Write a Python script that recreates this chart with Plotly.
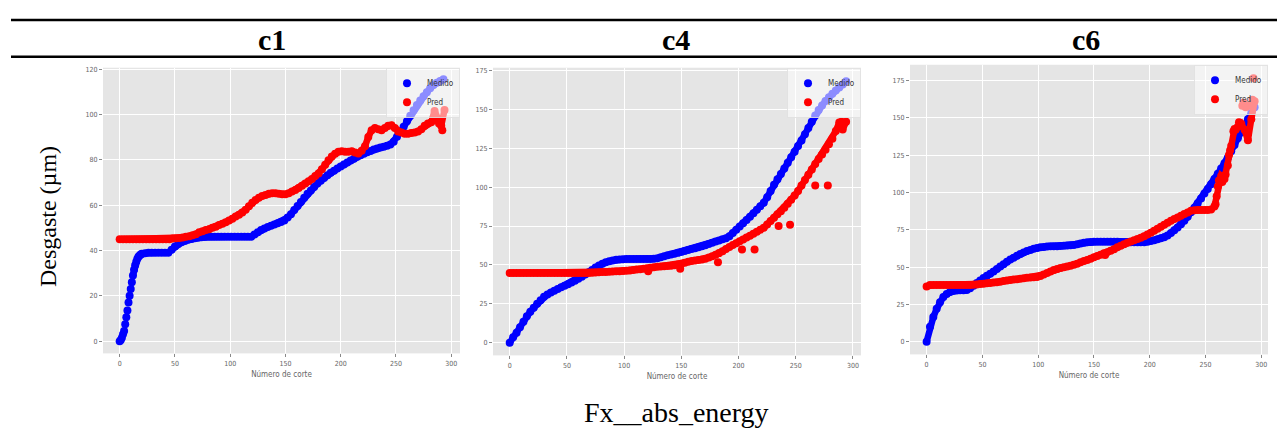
import plotly.graph_objects as go

# ---------------- data ----------------
grid_x = list(range(0, 295, 3))  # cut numbers 0..294 step 3

# c1
c1_medido_x = list(range(0, 21)) + list(range(23, 294, 3))
c1_medido = [0, 0.5, 1.5, 3, 4.5, 7.5, 10.5, 13.5, 17, 20, 23, 26, 29, 31.5, 33.5, 35, 36.3, 37.2, 37.8, 38.2, 38.5,
             38.8, 39, 39, 39, 39, 39, 39, 39, 40.3, 41.7, 42.8, 43.6, 44.2, 44.7, 45.1, 45.4, 45.6, 45.8, 45.9,
             46, 46, 46, 46, 46, 46, 46, 46, 46, 46, 46, 46, 46, 46,
             47, 48, 49, 49.7, 50.3, 50.9, 51.5, 52, 52.6, 53.2, 54.5, 56, 57.8, 59.6, 61.4, 63.2, 65, 66.5, 68,
             69.5, 70.8, 72, 73.2, 74.3, 75.2, 76.1, 77, 77.9, 78.8, 79.7, 80.5, 81.3, 82, 82.7, 83.3, 83.9, 84.5,
             85, 85.4, 85.8, 86.2, 86.7, 88, 90.2, 92.3, 94.6, 97, 99.4, 101.8, 104.2, 106.2, 108, 109.8, 111.5,
             113, 114, 114.8, 115.5]
c1_pred = [45, 45, 45, 45, 45, 45, 45, 45, 45, 45, 45, 45, 45, 45, 45, 45,
           45.3, 45.4, 45.5, 45.7, 46, 46.3, 46.7, 47.2, 48, 48.5, 49, 49.4, 50, 50.5, 51.2, 51.8, 52.5, 53.2,
           54, 55, 55.8, 56.8, 58, 59.5, 61, 62.3, 63.3, 64, 64.5, 65, 65.2, 65.2, 65, 64.8, 64.8, 65.2, 66,
           66.7, 67.5, 68.5, 69.5, 70.5, 71.5, 72.8, 74, 75.8, 77.8, 79.8, 81.5, 82.7, 83.5, 83.8, 83.5, 83.5,
           83.8, 83.2, 82.8, 84, 86, 90, 93, 94, 93.5, 93, 94, 95, 95.2, 94, 92.5, 92, 91.5, 91.5, 91.8, 92,
           92.5, 93.5, 95, 96, 96.5, 101.5, 97.5, 95, 102]
c1_pred_extra_x = [284, 289, 292]
c1_pred_extra = [98.5, 96, 93]

# c4
c4_medido = [0, 3.5, 6.5, 10, 13.5, 17, 20, 22.5, 25, 27.3, 29.5, 31, 32.3, 33.5, 34.6, 35.6, 36.6, 37.6,
             38.7, 39.9, 41.1, 42.4, 43.8, 45.3, 46.8, 48.3, 49.7, 50.8, 51.7, 52.4, 52.9, 53.3, 53.5, 53.7,
             53.8, 53.8, 53.8, 53.8, 53.8, 53.8, 53.8, 53.9, 54, 54.3, 55, 55.6, 56.2, 56.7, 57.2, 57.8, 58.4,
             59, 59.6, 60.2, 60.8, 61.4, 62, 62.7, 63.4, 64.2, 65, 65.7, 66.5, 67.2, 68.5, 70.5, 72.6, 74.7,
             76.8, 78.9, 81, 83.2, 85.4, 87.7, 90, 93.5, 97.5, 101.5, 105, 108.5, 112, 115.6, 119.2, 122.8,
             126.4, 130, 134, 138, 142, 146, 149.5, 152.5, 155.3, 157.8, 160, 162, 164, 166, 168]
c4_pred = [44.8, 44.8, 44.8, 44.8, 44.8, 44.8, 44.8, 44.8, 44.8, 44.8, 44.8, 44.8, 44.8, 44.8,
           44.8, 44.8, 44.8, 44.8, 44.8, 44.8, 44.8, 44.8, 44.8,
           44.9, 45, 45.1, 45.3, 45.4, 45.5, 45.6, 45.8, 45.9, 46, 46.1, 46.2, 46.5, 46.8, 47, 47.3, 47.6,
           47.9, 48.2, 48.5, 48.8, 49, 49.2, 49.4, 49.5, 49.8, 50.3, 50.8, 51.4, 52, 52.5, 52.8, 53.2, 53.5,
           54, 54.8, 55.6, 56.5, 57.6, 58.8, 60.2, 61.6, 62.8, 64, 65.2, 66.4, 67.6, 68.8, 70, 71.3, 72.6,
           73.9, 76, 78.2, 80.4, 82.5, 84.5, 86.8, 89.3, 91.9, 94.6, 97.5, 101, 104.5, 108, 111.3, 114.8,
           118, 121, 124, 127.5, 131, 136, 141.5, 137, 142]
c4_pred_out_x = [121, 149, 182, 203, 214, 235, 245, 267, 278, 290]
c4_pred_out = [46, 47.5, 51.8, 60, 60, 75, 75.8, 101, 101, 142]

# c6
c6_medido = [0, 10, 16.5, 22, 26.5, 30, 32, 33.3, 34, 34.3, 34.4, 34.4, 34.6, 35.8, 37.5, 39.3, 41, 42.6,
             44.1, 45.6, 47.1, 48.7, 50.3, 51.9, 53.5, 55, 56.3, 57.5, 58.7, 59.8, 60.7, 61.5, 62.2, 62.8,
             63.2, 63.5, 63.7, 63.9, 64, 64, 64.1, 64.2, 64.4, 64.6, 64.8, 65.3, 65.8, 66.2, 66.6, 66.8, 66.9,
             67, 67, 67, 67, 67, 67, 66.9, 66.8, 66.7, 66.6, 66.6, 66.6, 66.6, 66.6, 66.7, 67, 67.5, 68, 68.6,
             69.3, 70, 71.2, 72.8, 74.6, 76.5, 78.6, 81, 83.7, 86.7, 89.7, 92.8, 96, 99.2, 102.3, 105.5, 109,
             112.5, 116, 119.6, 123.2, 127.5, 131.8, 136.3, 140.8, 145, 149, 153, 157]
c6_pred = [37, 38, 38, 38, 38, 38, 38, 38, 38, 38, 38, 38, 38, 38,
           38.2, 38.4, 38.7, 38.9, 39.1, 39.3, 39.6, 39.9, 40.2, 40.6, 41, 41.3, 41.6, 41.9, 42.2, 42.5, 42.8,
           43, 43.2, 43.4, 44, 45, 46, 47, 48, 48.7, 49.3, 49.8, 50.3, 50.8, 51.5, 52.3, 53.2, 54, 54.8, 55.6,
           56.5, 57.4, 58.3, 59.2, 60, 61, 62, 63.2, 64.3, 65.3, 66.3, 67.2, 68, 68.8, 69.7, 70.7, 71.8, 73,
           74.3, 75.6, 77, 78.3, 79.7, 81, 82.2, 83.2, 84.3, 85.5, 86.6, 87.7, 88, 88.2, 88.3, 88.3, 88.3,
           88.5, 90.5, 104, 111, 109, 118, 131, 142.5, 144, 146, 142, 135, 149, 161]
c6_pred_out_x = [160, 259, 260, 262, 265, 268, 271, 272, 275, 277, 280, 283, 284, 286, 287, 289, 292, 293]
c6_pred_out = [58, 92, 97.5, 108, 107, 112, 125, 128, 141, 142, 147, 158, 160, 157, 141, 158, 162, 176.5]

panel_titles = ["c1", "c4", "c6"]
series_names = ["Medido", "Pred"]
x_ticks = [0, 50, 100, 150, 200, 250, 300]
y_ticks_c1 = [0, 20, 40, 60, 80, 100, 120]
y_ticks_c46 = [0, 25, 50, 75, 100, 125, 150, 175]
x_title = "Número de corte"
y_label = "Desgaste (µm)"
x_label = "Fx__abs_energy"

# ---------------- figure ----------------
W, H = 1285, 432
BLUE, RED = "#0000FF", "#FF0000"
MS = 8      # marker diameter
LW = 6.5    # width of the dense band joining consecutive markers

panels = [
    dict(mx=c1_medido_x, my=c1_medido, py=c1_pred, ox=c1_pred_extra_x, oy=c1_pred_extra, band_from=12,
         xpx=(95, 452), ypx=(58, 345), xr=[-15.1, 308], yr=[-5.4, 120.6], yt=y_ticks_c1),
    dict(mx=grid_x, my=c4_medido, py=c4_pred, ox=c4_pred_out_x, oy=c4_pred_out, band_from=0,
         xpx=(485, 853), ypx=(58, 347), xr=[-14.6, 307], yr=[-8.1, 176.7], yt=y_ticks_c46),
    dict(mx=grid_x, my=c6_medido, py=c6_pred, ox=c6_pred_out_x, oy=c6_pred_out, band_from=0,
         xpx=(902, 1260), ypx=(55, 346), xr=[-14.9, 306], yr=[-8.5, 185.5], yt=y_ticks_c46),
]

fig = go.Figure()
layout = dict(width=W, height=H, margin=dict(l=0, r=0, t=0, b=0),
              paper_bgcolor="white", plot_bgcolor="#E5E5E5", showlegend=True)

small_font = "DejaVu Sans Condensed, DejaVu Sans"
tick_font = dict(family=small_font, size=7, color="#666666")

for i, p in enumerate(panels):
    k = "" if i == 0 else str(i + 1)
    lg = "legend" if i == 0 else f"legend{i + 1}"
    ax = dict(xaxis="x" + k, yaxis="y" + k, legend=lg)
    b = p["band_from"]
    # dense bands (the original has one marker per cut, which merges into a band)
    fig.add_trace(go.Scatter(x=p["mx"][b:], y=p["my"][b:], mode="lines", showlegend=False,
                             line=dict(color=BLUE, width=LW), hoverinfo="skip", **ax))
    fig.add_trace(go.Scatter(x=p["mx"], y=p["my"], mode="markers", name=series_names[0],
                             marker=dict(color=BLUE, size=MS, line=dict(width=0)), **ax))
    fig.add_trace(go.Scatter(x=grid_x, y=p["py"], mode="lines", showlegend=False,
                             line=dict(color=RED, width=LW), hoverinfo="skip", **ax))
    fig.add_trace(go.Scatter(x=grid_x, y=p["py"], mode="markers", name=series_names[1],
                             marker=dict(color=RED, size=MS, line=dict(width=0)), **ax))
    fig.add_trace(go.Scatter(x=p["ox"], y=p["oy"], mode="markers", name=series_names[1],
                             marker=dict(color=RED, size=MS, line=dict(width=0)), showlegend=False, **ax))
    x0, x1 = p["xpx"]
    yt, yb = p["ypx"]
    layout["xaxis" + k] = dict(domain=[x0 / W, x1 / W], range=p["xr"], anchor="y" + k,
                               tickvals=x_ticks, showgrid=True, gridcolor="white", gridwidth=1,
                               zeroline=False, showline=False, ticks="outside", ticklen=3,
                               tickcolor="#888888", tickfont=tick_font,
                               title=dict(text=x_title, standoff=4,
                                          font=dict(family=small_font, size=8, color="#666666")))
    layout["yaxis" + k] = dict(domain=[1 - yb / H, 1 - yt / H], range=p["yr"], anchor="x" + k,
                               tickvals=p["yt"], showgrid=True, gridcolor="white", gridwidth=1,
                               zeroline=False, showline=False, ticks="outside", ticklen=3,
                               tickcolor="#888888", tickfont=tick_font)
    layout[lg] = dict(x=x1 / W, xanchor="right", y=1 - yt / H, yanchor="top",
                      bgcolor="rgba(255,255,255,0.55)", bordercolor="rgba(225,225,225,0.9)", borderwidth=1,
                      font=dict(family=small_font, size=8, color="#333333"),
                      itemwidth=30, tracegroupgap=0)

fig.update_layout(**layout)

title_font = dict(family="Liberation Serif, Times New Roman, serif", size=30, color="black")
for cx, t in zip([264, 668, 1078], panel_titles):
    fig.add_annotation(x=cx / W, y=1 - 30 / H, xref="paper", yref="paper", text=f"<b>{t}</b>",
                       showarrow=False, font=title_font, xanchor="center", yanchor="middle")

fig.add_annotation(x=40 / W, y=1 - 208 / H, xref="paper", yref="paper", text=y_label, textangle=-90,
                   showarrow=False, xanchor="center", yanchor="middle",
                   font=dict(family="Liberation Serif, Times New Roman, serif", size=24, color="black"))
fig.add_annotation(x=668 / W, y=1 - 404 / H, xref="paper", yref="paper", text=x_label,
                   showarrow=False, xanchor="center", yanchor="middle",
                   font=dict(family="Liberation Serif, Times New Roman, serif", size=28, color="black"))

for yy in [10, 47]:
    fig.add_shape(type="line", xref="paper", yref="paper", x0=3 / W, x1=1282 / W,
                  y0=1 - yy / H, y1=1 - yy / H, line=dict(color="black", width=2.5))

fig.write_html("out.html")
